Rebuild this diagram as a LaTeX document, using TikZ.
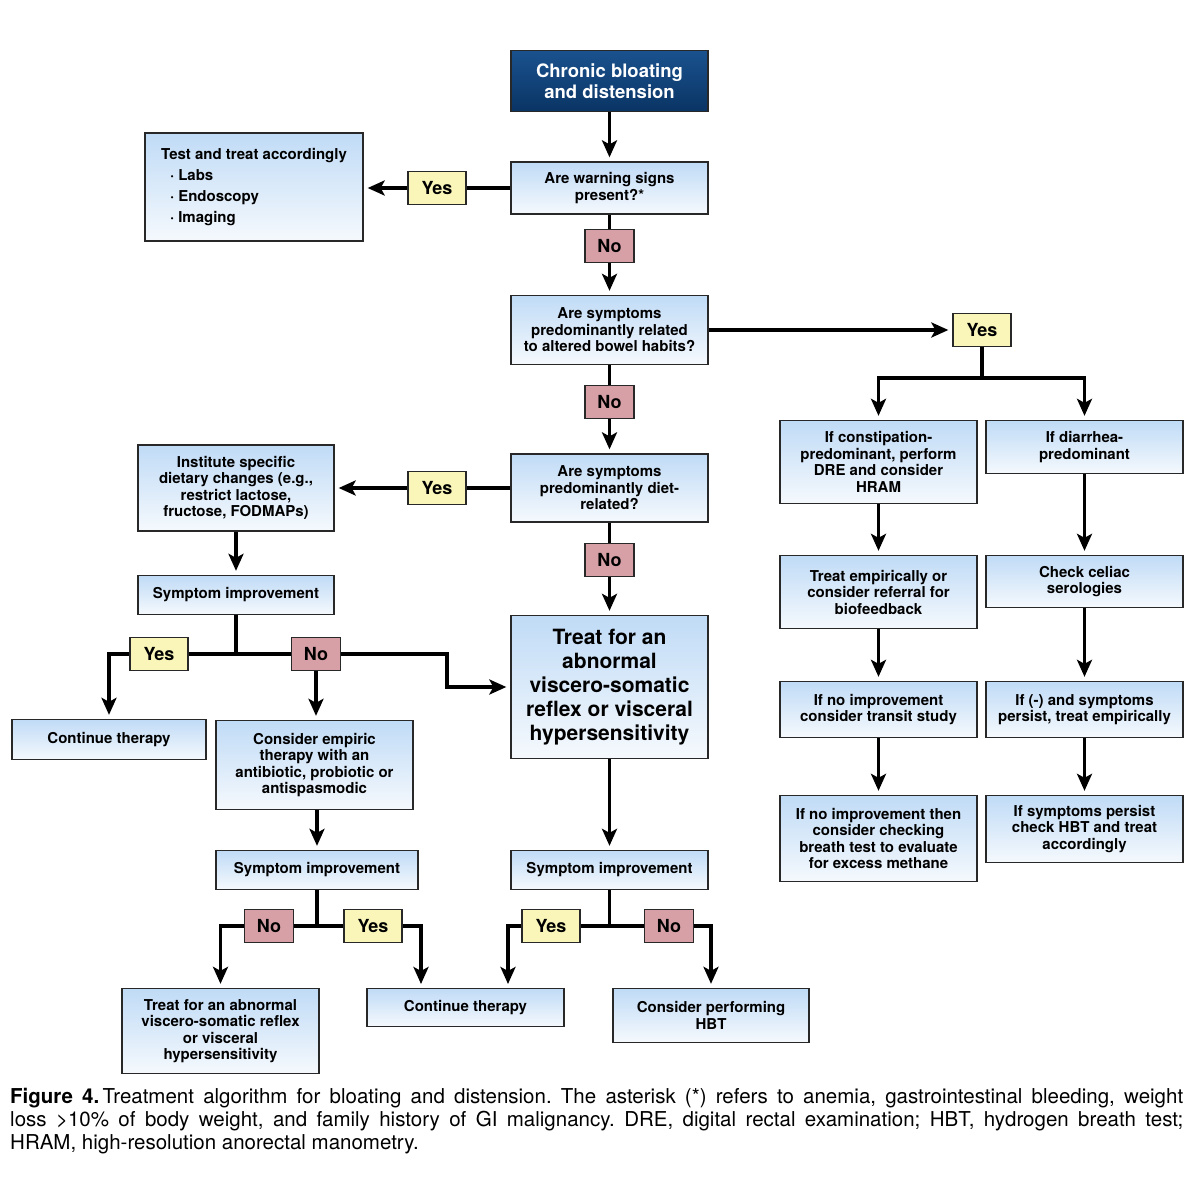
\documentclass[tikz,border=0pt]{standalone}
\usepackage{fontspec}
\setmainfont{TeX Gyre Heros}
\newfontfamily\capfont{TeX Gyre Heros}
\usetikzlibrary{arrows.meta,calc}
\definecolor{boxtop}{RGB}{192,219,246}
\definecolor{boxbot}{RGB}{245,249,253}
\definecolor{navytop}{RGB}{26,82,142}
\definecolor{navybot}{RGB}{10,52,100}
\definecolor{yesfill}{RGB}{250,246,186}
\definecolor{nofill}{RGB}{214,160,166}
\definecolor{edge}{RGB}{40,40,40}
\tikzset{
  box/.style={draw=edge, line width=1.3pt, top color=boxtop, bottom color=boxbot,
    align=center, inner sep=0pt, font=\fontsize{15}{16.5}\selectfont\bfseries},
  startbox/.style={box, top color=navytop, bottom color=navybot, text=white,
    font=\fontsize{18.5}{21}\selectfont\bfseries},
  bigbox/.style={box, font=\fontsize{21}{24}\selectfont\bfseries},
  yeslab/.style={draw=edge, line width=1.3pt, fill=yesfill, minimum width=58pt,
    minimum height=33pt, inner sep=0pt, font=\fontsize{18}{20}\selectfont\bfseries},
  nolab/.style={yeslab, fill=nofill, minimum width=49pt},
  conn/.style={line width=3.5pt},
  arr/.style={conn, -{Stealth[length=17pt,width=15pt,inset=4pt]}, shorten >=4pt},
}
\begin{document}
\begin{tikzpicture}[x=1pt,y=-1pt]
\useasboundingbox[fill=white] (0,0) rectangle (1200,1199);
% main column
\node[startbox, minimum width=197pt, minimum height=61pt] (start) at (609.5,81) {Chronic bloating\\and distension};
\node[box, minimum width=197pt, minimum height=52pt] (warn) at (609.5,188) {Are warning signs\\present?*};
\node[box, minimum width=218pt, minimum height=108pt, align=left, font=\fontsize{15}{21}\selectfont\bfseries] (test) at (254,187)
  {Test and treat accordingly\\\hspace*{9pt}·\hspace{4pt}Labs\\\hspace*{9pt}·\hspace{4pt}Endoscopy\\\hspace*{9pt}·\hspace{4pt}Imaging};
\node[yeslab] (yes1) at (437,188) {Yes};
\node[nolab] (no1) at (609.5,246) {No};
\node[box, minimum width=197pt, minimum height=69pt] (bowel) at (609.5,330) {Are symptoms\\predominantly related\\to altered bowel habits?};
\node[yeslab] (yes2) at (982,330) {Yes};
\node[nolab] (no2) at (609.5,402) {No};
\node[box, minimum width=197pt, minimum height=68pt] (diet) at (609.5,488) {Are symptoms\\predominantly diet-\\related?};
\node[yeslab] (yes3) at (437,488) {Yes};
\node[box, minimum width=196pt, minimum height=86pt] (inst) at (236,488) {Institute specific\\dietary changes (e.g.,\\restrict lactose,\\fructose, FODMAPs)};
\node[nolab] (no3) at (609.5,560) {No};
\node[box, minimum width=196pt, minimum height=39pt] (symp1) at (236,595) {Symptom improvement};
\node[bigbox, minimum width=197pt, minimum height=143pt] (treat) at (609.5,687) {Treat for an\\abnormal\\viscero-somatic\\reflex or visceral\\hypersensitivity};
\node[yeslab] (yesL) at (159,654) {Yes};
\node[nolab] (noL) at (316,654) {No};
\node[box, minimum width=194pt, minimum height=40pt] (cont1) at (109,739.5) {Continue therapy};
\node[box, minimum width=197pt, minimum height=89pt] (consider) at (314.5,765) {Consider empiric\\therapy with an\\antibiotic, probiotic or\\antispasmodic};
\node[box, minimum width=202pt, minimum height=39pt] (symp2) at (317,870) {Symptom improvement};
\node[box, minimum width=197pt, minimum height=39pt] (symp3) at (609.5,870) {Symptom improvement};
\node[nolab] (noB1) at (269,926) {No};
\node[yeslab] (yesB1) at (373,926) {Yes};
\node[yeslab] (yesB2) at (551,926) {Yes};
\node[nolab] (noB2) at (669,926) {No};
\node[box, minimum width=197pt, minimum height=85pt] (treatS) at (220.5,1031) {Treat for an abnormal\\viscero-somatic reflex\\or visceral\\hypersensitivity};
\node[box, minimum width=197pt, minimum height=38pt] (cont2) at (465.5,1007.5) {Continue therapy};
\node[box, minimum width=196pt, minimum height=54pt] (hbt) at (711,1015.5) {Consider performing\\HBT};
% right columns
\node[box, minimum width=197pt, minimum height=83pt] (constip) at (878.5,462) {If constipation-\\predominant, perform\\DRE and consider\\HRAM};
\node[box, minimum width=197pt, minimum height=53pt] (diarr) at (1084.5,447) {If diarrhea-\\predominant};
\node[box, minimum width=197pt, minimum height=73pt] (treatemp) at (878.5,592) {Treat empirically or\\consider referral for\\biofeedback};
\node[box, minimum width=197pt, minimum height=52pt] (celiac) at (1084.5,581.5) {Check celiac\\serologies};
\node[box, minimum width=197pt, minimum height=56pt] (noimp) at (878.5,709.5) {If no improvement\\consider transit study};
\node[box, minimum width=197pt, minimum height=56pt] (ifneg) at (1084.5,709.5) {If (-) and symptoms\\persist, treat empirically};
\node[box, minimum width=197pt, minimum height=86pt] (noimp2) at (878.5,838.5) {If no improvement then\\consider checking\\breath test to evaluate\\for excess methane};
\node[box, minimum width=197pt, minimum height=67pt] (hbtp) at (1084.5,829) {If symptoms persist\\check HBT and treat\\accordingly};
% junction coordinates
\coordinate (jr) at (982,378);
\coordinate (j1) at (236,654);
\coordinate (k1) at (447,654);
\coordinate (j2) at (317,926);
\coordinate (j3) at (609.5,926);
\coordinate (c2a) at (421,988);
\coordinate (c2b) at (508,988);
% connectors
\draw[arr] (start) -- (warn);
\draw[conn] (warn.west) -- (yes1.east);
\draw[arr] (yes1.west) -- (test.east |- yes1.west);
\draw[conn] (warn) -- (no1);
\draw[arr] (no1) -- (bowel);
\draw[arr] (bowel.east) -- (yes2.west);
\draw[conn] (yes2) -- (jr);
\draw[arr] (jr) -| (constip);
\draw[arr] (jr) -| (diarr);
\draw[conn] (bowel) -- (no2);
\draw[arr] (no2) -- (diet);
\draw[conn] (diet.west) -- (yes3.east);
\draw[arr] (yes3.west) -- (inst.east);
\draw[conn] (diet) -- (no3);
\draw[arr] (no3) -- (treat);
\draw[arr] (inst) -- (symp1);
\draw[conn] (symp1) -- (j1);
\draw[conn] (yesL.east) -- (noL.west);
\draw[arr] (yesL.west) -| (cont1);
\draw[arr] (noL.south) -- (noL.south |- consider.north);
\draw[arr] (noL.east) -- (k1) |- (treat.west);
\draw[arr] (consider.south -| symp2.north) -- (symp2.north);
\draw[conn] (symp2) -- (j2);
\draw[conn] (noB1.east) -- (yesB1.west);
\draw[arr] (noB1.west) -| (treatS);
\draw[arr] (yesB1.east) -| (c2a);
\draw[arr] (treat) -- (symp3);
\draw[conn] (symp3) -- (j3);
\draw[conn] (yesB2.east) -- (noB2.west);
\draw[arr] (yesB2.west) -| (c2b);
\draw[arr] (noB2.east) -| (hbt);
\draw[arr] (constip) -- (treatemp);
\draw[arr] (diarr) -- (celiac);
\draw[arr] (treatemp) -- (noimp);
\draw[arr] (celiac) -- (ifneg);
\draw[arr] (noimp) -- (noimp2);
\draw[arr] (ifneg) -- (hbtp);
% redraw labels on top
\foreach \n in {yes1,yes2,yes3,yesL,yesB1,yesB2}{\node[yeslab] at (\n) {Yes};}
\foreach \n in {no1,no2,no3,noL,noB1,noB2}{\node[nolab] at (\n) {No};}
% caption
\node[anchor=north west, text width=1173pt, align=justify, inner sep=0pt,
  font=\capfont\fontsize{20.5}{23}\selectfont] (cap) at (10,1088)
  {\frenchspacing\textbf{Figure 4.}\,Treatment algorithm for bloating and distension. The asterisk (*) refers to anemia, gastrointestinal bleeding, weight\linebreak loss >10\% of body weight, and family history of GI malignancy. DRE, digital rectal examination; HBT, hydrogen breath test;\linebreak HRAM, high-resolution anorectal manometry.};
\end{tikzpicture}
\end{document}
